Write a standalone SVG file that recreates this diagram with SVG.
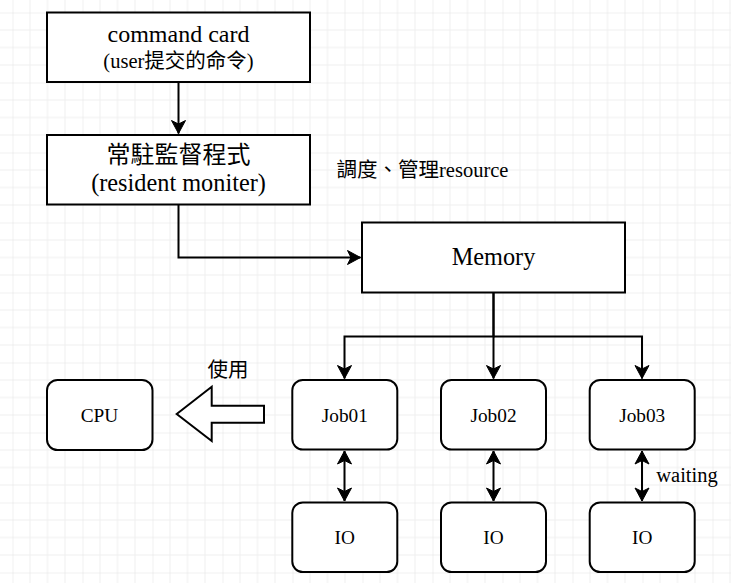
<svg xmlns="http://www.w3.org/2000/svg" width="731" height="583" viewBox="0 0 731 583">
  <style>
    .box { fill: #ffffff; stroke: #000000; stroke-width: 2; }
    .conn { fill: none; stroke: #000000; stroke-width: 2; }
    .t { font-family: "Liberation Serif", "Times New Roman", serif; fill: #000000; text-anchor: middle; }
    .cjk { font-family: "Noto Sans CJK TC", "Noto Sans CJK SC", sans-serif; }
  </style>
  <defs>
    <pattern id="grid" x="12.5" y="12.5" width="70" height="70" patternUnits="userSpaceOnUse">
      <path d="M17.5,0 V70 M35,0 V70 M52.5,0 V70 M0,17.5 H70 M0,35 H70 M0,52.5 H70" stroke="#efefef" stroke-width="1" fill="none"/>
      <path d="M0,0 V70 M0,0 H70" stroke="#e2e2e2" stroke-width="1" fill="none"/>
    </pattern>
    <marker id="arr" markerUnits="userSpaceOnUse" viewBox="-14 -8 16 16" refX="0" refY="0" markerWidth="16" markerHeight="16" orient="auto-start-reverse">
      <path d="M0,0 L-13,-7 L-9.5,0 L-13,7 Z" fill="#000000" stroke="#000000" stroke-width="1"/>
    </marker>
  </defs>
  <rect x="0" y="0" width="731" height="583" fill="#ffffff"/>
  <rect x="0" y="0" width="731" height="583" fill="url(#grid)"/>

  <g id="connectors">
    <path class="conn" d="M178.5,82.5 V133.5" marker-end="url(#arr)"/>
    <path class="conn" d="M178.5,204.5 V257.5 H360.5" marker-end="url(#arr)"/>
    <path class="conn" d="M493.5,292.5 V336.5 H344.5 V378.5" marker-end="url(#arr)"/>
    <path class="conn" d="M493.5,292.5 V378.5" marker-end="url(#arr)"/>
    <path class="conn" d="M493.5,336.5 H642 V378.5" marker-end="url(#arr)"/>
    <path class="conn" d="M344.5,451 V501" marker-start="url(#arr)" marker-end="url(#arr)"/>
    <path class="conn" d="M493.5,451 V501" marker-start="url(#arr)" marker-end="url(#arr)"/>
    <path class="conn" d="M642,451 V501" marker-start="url(#arr)" marker-end="url(#arr)"/>
    <polygon class="box" points="176.7,414 211.7,386.7 211.7,405.7 264,405.7 264,422.7 211.7,422.7 211.7,441"/>
  </g>

  <g id="command-card">
    <rect class="box" x="47" y="12.5" width="263" height="69.5"/>
    <text class="t" x="178.5" y="42" font-size="24">command card</text>
    <text class="t" x="178.5" y="68" font-size="20.5">(user<tspan class="cjk">提交的命令</tspan>)</text>
  </g>
  <g id="resident-monitor">
    <rect class="box" x="47" y="135" width="263" height="69.5"/>
    <text class="t cjk" x="178.5" y="163" font-size="24">常駐監督程式</text>
    <text class="t" x="178.5" y="191" font-size="24.3">(resident moniter)</text>
  </g>
  <g id="label-resource">
    <text class="t" x="422.5" y="177" font-size="20.5"><tspan class="cjk">調度、管理</tspan>resource</text>
  </g>
  <g id="memory">
    <rect class="box" x="362" y="222.5" width="263" height="70"/>
    <text class="t" x="493.5" y="265" font-size="24.3">Memory</text>
  </g>
  <g id="cpu">
    <rect class="box" x="47" y="380" width="105.5" height="70" rx="10.5"/>
    <text class="t" x="99.5" y="421.5" font-size="19.3">CPU</text>
  </g>
  <g id="label-use">
    <text class="t cjk" x="228" y="377" font-size="20.5">使用</text>
  </g>
  <g id="job01">
    <rect class="box" x="292.3" y="380" width="105" height="69.5" rx="10.5"/>
    <text class="t" x="344.8" y="421.5" font-size="19.3">Job01</text>
  </g>
  <g id="job02">
    <rect class="box" x="441" y="380" width="105" height="69.5" rx="10.5"/>
    <text class="t" x="493.5" y="421.5" font-size="19.3">Job02</text>
  </g>
  <g id="job03">
    <rect class="box" x="589.7" y="380" width="105" height="69.5" rx="10.5"/>
    <text class="t" x="642.2" y="421.5" font-size="19.3">Job03</text>
  </g>
  <g id="io1">
    <rect class="box" x="292.3" y="502.5" width="105" height="69.5" rx="10.5"/>
    <text class="t" x="344.8" y="544" font-size="19.3">IO</text>
  </g>
  <g id="io2">
    <rect class="box" x="441" y="502.5" width="105" height="69.5" rx="10.5"/>
    <text class="t" x="493.5" y="544" font-size="19.3">IO</text>
  </g>
  <g id="io3">
    <rect class="box" x="589.7" y="502.5" width="105" height="69.5" rx="10.5"/>
    <text class="t" x="642.2" y="544" font-size="19.3">IO</text>
  </g>
  <g id="label-waiting">
    <text class="t" x="687" y="482" font-size="20.5">waiting</text>
  </g>
</svg>
